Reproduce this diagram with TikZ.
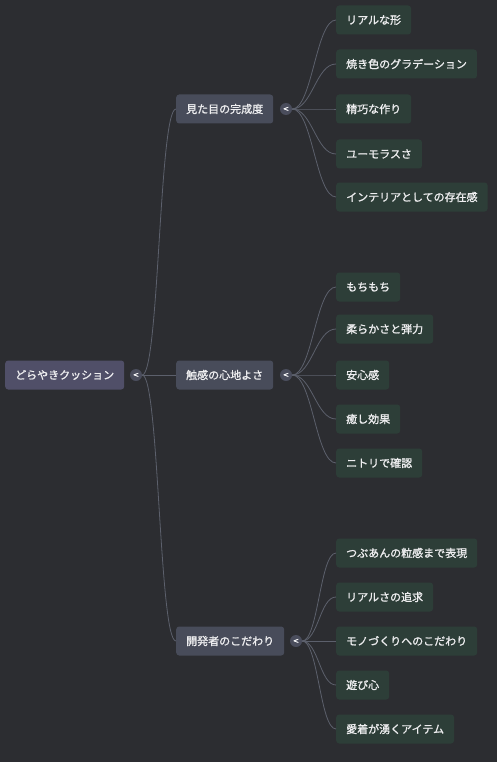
\documentclass[tikz,border=0pt]{standalone}
\usepackage{fontspec}
\newfontfamily\cjk{Noto Sans CJK JP}[FakeBold=1.2]
\newfontfamily\knobfont{DejaVu Sans}[FakeBold=2]
\definecolor{bg}{RGB}{44,45,49}
\definecolor{rootc}{RGB}{80,79,104}
\definecolor{midc}{RGB}{72,76,90}
\definecolor{leafc}{RGB}{45,62,56}
\definecolor{linec}{RGB}{92,96,108}
\definecolor{txt}{RGB}{238,238,240}
\definecolor{knob}{RGB}{74,77,92}
\begin{document}
\begin{tikzpicture}[x=1pt,y=-1pt,
  box/.style={rounded corners=3pt,minimum height=29pt,inner xsep=10pt,inner ysep=0pt,
    text=txt,font=\cjk\fontsize{11}{13}\selectfont,anchor=west},
  rootbox/.style={box,fill=rootc},
  midbox/.style={box,fill=midc},
  leafbox/.style={box,fill=leafc},
  knobc/.style={circle,fill=knob,minimum size=12pt,inner sep=0pt,text=white,
    font=\knobfont\fontsize{7}{7}\selectfont},
  conn/.style={draw=linec,line width=0.8pt}]
\fill[bg] (0,0) rectangle (497,762);
\useasboundingbox (0,0) rectangle (497,762);

\node[rootbox] (r) at (5,375) {どらやきクッション};
\node[knobc] (c0) at (136,375) {<};

\node[midbox] (a) at (176,109) {見た目の完成度};
\node[midbox] (b) at (176,375) {触感の心地よさ};
\node[midbox] (c) at (176,641) {開発者のこだわり};
\node[knobc] (ca) at (286,109) {<};
\node[knobc] (cb) at (286,375) {<};
\node[knobc] (cc) at (296,641) {<};

\foreach \n in {a,b,c}
  \draw[conn] (c0.east) .. controls +(17,0) and +(-17,0) .. (\n.west);

\node[leafbox] (a1) at (336,20) {リアルな形};
\node[leafbox] (a2) at (336,64) {焼き色のグラデーション};
\node[leafbox] (a3) at (336,109) {精巧な作り};
\node[leafbox] (a4) at (336,154) {ユーモラスさ};
\node[leafbox] (a5) at (336,197) {インテリアとしての存在感};

\node[leafbox] (b1) at (336,287) {もちもち};
\node[leafbox] (b2) at (336,329) {柔らかさと弾力};
\node[leafbox] (b3) at (336,375) {安心感};
\node[leafbox] (b4) at (336,419) {癒し効果};
\node[leafbox] (b5) at (336,463) {ニトリで確認};

\node[leafbox] (c1) at (336,553) {つぶあんの粒感まで表現};
\node[leafbox] (c2) at (336,597) {リアルさの追求};
\node[leafbox] (c3) at (336,641) {モノづくりへのこだわり};
\node[leafbox] (c4) at (336,685) {遊び心};
\node[leafbox] (c5) at (336,729) {愛着が湧くアイテム};

\foreach \i in {1,...,5} {
  \draw[conn] (ca.east) .. controls +(20,0) and +(-20,0) .. (a\i.west);
  \draw[conn] (cb.east) .. controls +(20,0) and +(-20,0) .. (b\i.west);
  \draw[conn] (cc.east) .. controls +(16,0) and +(-16,0) .. (c\i.west);
}
\end{tikzpicture}
\end{document}
